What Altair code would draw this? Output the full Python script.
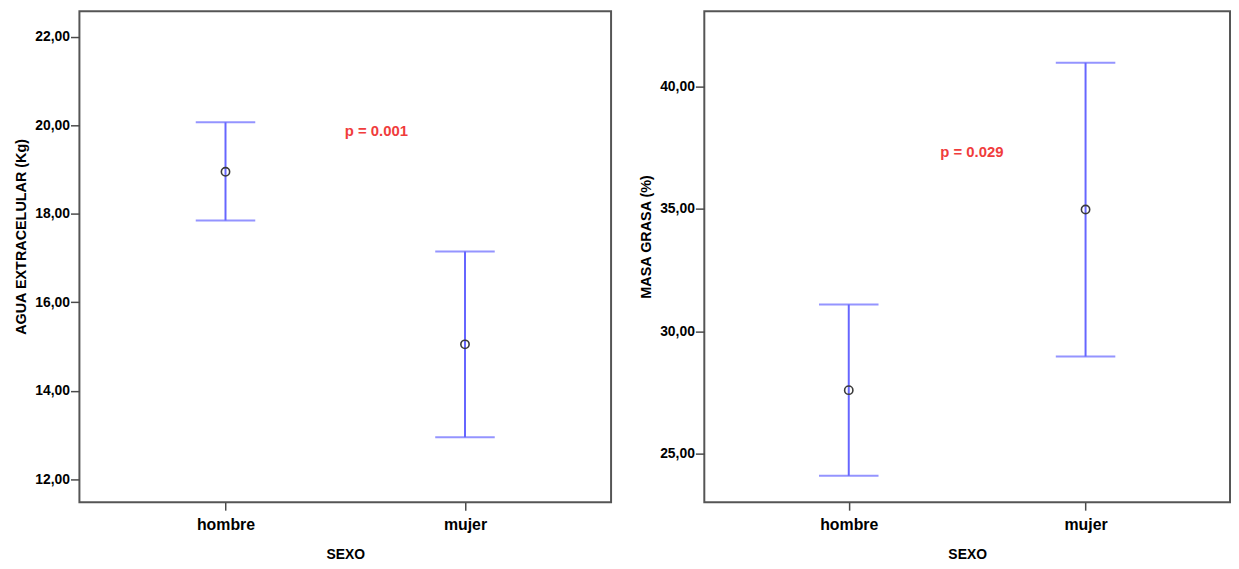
import altair as alt
import pandas as pd

# --- data ---
sexo = ["hombre", "mujer"]

agua_media = [18.95, 15.05]
agua_inf = [17.85, 12.95]
agua_sup = [20.07, 17.15]

grasa_media = [27.60, 34.98]
grasa_inf = [24.10, 28.97]
grasa_sup = [31.10, 40.98]

p_agua = "p = 0.001"
p_grasa = "p = 0.029"
p_agua_pos = [0.63, 19.87]
p_grasa_pos = [0.52, 37.33]

agua_ticks = [12, 14, 16, 18, 20, 22]
grasa_ticks = [25, 30, 35, 40]

FONT = "Liberation Sans"
BLUE = "#6666ff"
FRAME = "#4a4a4a"

label_expr_x = " : ".join(
    [f"datum.value == {i} ? '{s}'" for i, s in enumerate(sexo)]
) + " : ''"


def panel(media, inf, sup, ytitle, ydomain, yticks, ptext, ppos, width):
    df = pd.DataFrame({
        "pos": list(range(len(sexo))),
        "sexo": sexo,
        "media": media,
        "inf": inf,
        "sup": sup,
    })
    x = alt.X(
        "pos:Q",
        scale=alt.Scale(domain=[-0.61, 1.61], nice=False, zero=False),
        axis=alt.Axis(
            values=list(range(len(sexo))),
            labelExpr=label_expr_x,
            title="SEXO",
            grid=False,
            domain=False,
            tickColor=FRAME,
            tickSize=8,
            tickWidth=1.5,
            labelFontSize=16,
            labelFontWeight="bold",
            labelPadding=6,
            titlePadding=16,
        ),
    )
    yscale = alt.Scale(domain=ydomain, nice=False, zero=False)
    yaxis = alt.Axis(
        values=yticks,
        labelExpr="replace(format(datum.value, '.2f'), '.', ',')",
        title=ytitle,
        grid=False,
        domain=False,
        tickColor=FRAME,
        tickSize=9,
        tickWidth=1.5,
        labelFontSize=14,
        labelFontWeight="bold",
        labelPadding=1,
        titleFontWeight="bold",
        titleFontSize=14.5,
        titlePadding=6,
        titleY=227,
    )
    base = alt.Chart(df)
    rule = base.mark_rule(color=BLUE, strokeWidth=2).encode(
        x=x, y=alt.Y("inf:Q", scale=yscale, axis=yaxis), y2="sup:Q"
    )
    cap_lo = base.mark_tick(color=BLUE, thickness=2, size=60, orient="horizontal").encode(
        x="pos:Q", y="inf:Q"
    )
    cap_hi = base.mark_tick(color=BLUE, thickness=2, size=60, orient="horizontal").encode(
        x="pos:Q", y="sup:Q"
    )
    pt = base.mark_point(shape="circle", filled=False, color="#3a3a3a", size=70,
                         strokeWidth=1.6, opacity=1).encode(
        x="pos:Q", y="media:Q"
    )
    ann_df = pd.DataFrame({"x": [ppos[0]], "y": [ppos[1]], "t": [ptext]})
    ann = alt.Chart(ann_df).mark_text(
        color="#f03c3c", fontWeight="bold", fontSize=15, font=FONT
    ).encode(x="x:Q", y="y:Q", text="t:N")
    return alt.layer(rule, cap_lo, cap_hi, pt, ann).properties(width=width, height=495)


left = panel(agua_media, agua_inf, agua_sup, "AGUA EXTRACELULAR (Kg)",
             [11.48, 22.58], agua_ticks, p_agua, p_agua_pos, 536)
right = panel(grasa_media, grasa_inf, grasa_sup, "MASA GRASA (%)",
              [23.02, 43.08], grasa_ticks, p_grasa, p_grasa_pos, 530)

chart = alt.hconcat(left, right, spacing=25).properties(
    padding={"left": 4, "top": 0, "right": 0, "bottom": 0}
).configure(
    font=FONT
).configure_view(
    stroke="#555555", strokeWidth=2
).configure_axis(
    labelFont=FONT, titleFont=FONT, labelColor="#000000", titleColor="#000000"
).configure_axisX(
    titleFontWeight="bold", titleFontSize=14
)

chart.save("out.html", embed_options={"renderer": "svg", "actions": False})
